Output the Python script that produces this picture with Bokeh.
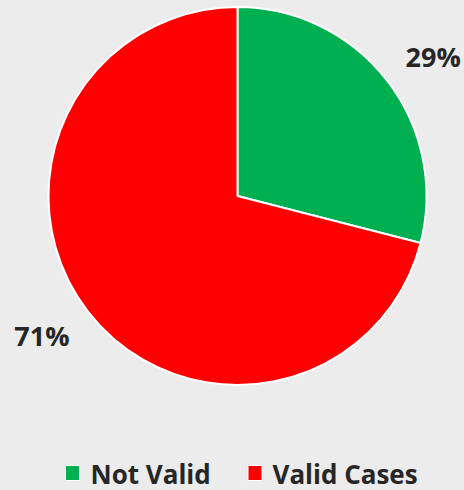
import math
from bokeh.plotting import figure
from bokeh.models import ColumnDataSource, Range1d
from bokeh.core.properties import value
from bokeh.embed import file_html
from bokeh.resources import INLINE
from jinja2 import Template

# ---- data ----
categories = ["Not Valid", "Valid Cases"]
shares = [29, 71]
colors = ["#00B050", "#FF0000"]
label_texts = ["29%", "71%"]

# ---- layout (pixels) ----
W, H = 464, 490
CX, CY, R = 237, 294.5, 189
LABEL_R = 240
LABEL_ROT = math.radians(-2.4)
LEG_SQ_X = [72, 254.5]      # legend square centres
LEG_SQ_Y = 17.5             # legend square centre (from bottom)
LEG_TXT_Y = 17              # legend text middle (from bottom)
LEG_TXT_DX = [18, 17.5]

total = sum(shares)
starts, ends, lx, ly = [], [], [], []
acc = 0.0
for s in shares:
    a0 = math.pi / 2 - 2 * math.pi * acc / total
    a1 = math.pi / 2 - 2 * math.pi * (acc + s) / total
    starts.append(a0)
    ends.append(a1)
    mid = (a0 + a1) / 2 + LABEL_ROT
    lx.append(CX + LABEL_R * math.cos(mid))
    ly.append(CY + LABEL_R * math.sin(mid))
    acc += s

src = ColumnDataSource(dict(cat=categories, start=starts, end=ends, color=colors,
                            lx=lx, ly=ly, txt=label_texts))

leg = ColumnDataSource(dict(
    sx=LEG_SQ_X, sy=[LEG_SQ_Y] * len(categories), color=colors,
    tx=[x + d for x, d in zip(LEG_SQ_X, LEG_TXT_DX)], ty=[LEG_TXT_Y] * len(categories),
    label=categories))

p = figure(width=W, height=H, output_backend="svg", toolbar_location=None,
           x_range=Range1d(0, W), y_range=Range1d(0, H), min_border=0,
           background_fill_color="#ececec", border_fill_color="#ececec")
p.axis.visible = False
p.grid.visible = False
p.outline_line_color = None

p.wedge(x=CX, y=CY, radius=R, start_angle="start", end_angle="end", direction="clock",
        fill_color="color", line_color="white", line_width=2, source=src)

p.text(x="lx", y="ly", text="txt", source=src, text_align="center", text_baseline="middle",
       text_font=value("Open Sans"), text_font_style="bold", text_font_size="27px",
       text_color="#262626")

# legend
p.rect(x="sx", y="sy", width=14, height=15, fill_color="color", line_color="white",
       line_width=1, source=leg)
p.text(x="tx", y="ty", text="label", source=leg, text_align="left", text_baseline="middle",
       text_font=value("Open Sans"), text_font_style="bold", text_font_size="26px",
       text_color="#262626")

tmpl = Template("""{% extends base %}
{% block preamble %}<style>html,body{margin:0;padding:0;background:#ececec;overflow:hidden;}</style>{% endblock %}""")

open("out.html", "w").write(file_html(p, INLINE, template=tmpl))
